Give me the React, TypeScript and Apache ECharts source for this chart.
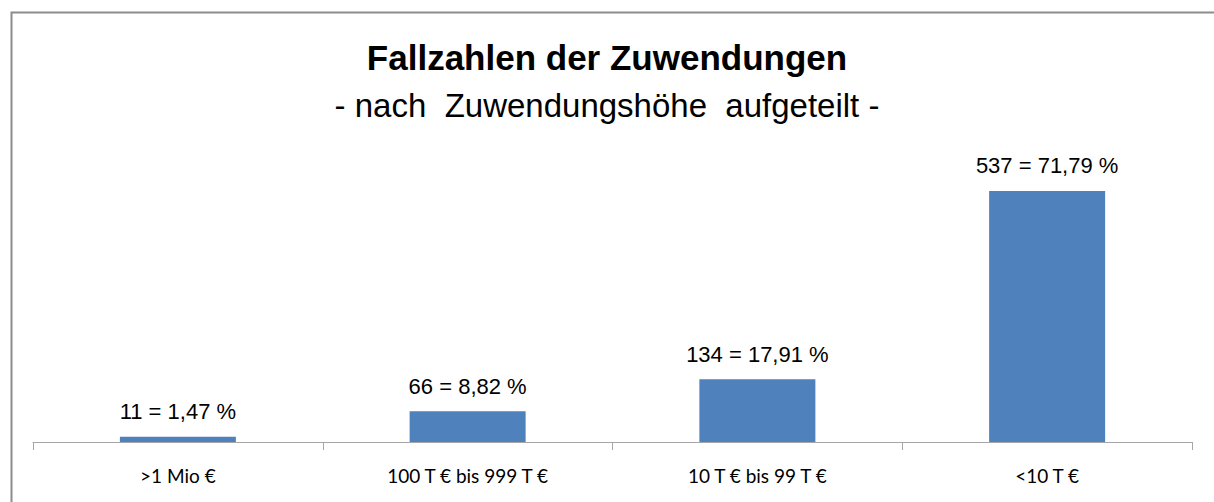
import React, { useEffect, useRef } from "react";
import * as echarts from "echarts";

const titleText = "Fallzahlen der Zuwendungen";
const subtitleText = "- nach  Zuwendungshöhe  aufgeteilt -";
const categories = [">1 Mio €", "100 T € bis 999 T €", "10 T € bis 99 T €", "<10 T €"];
const counts = [11, 66, 134, 537];
const percents = ["1,47", "8,82", "17,91", "71,79"];

export default function App() {
  const ref = useRef<HTMLDivElement>(null);
  useEffect(() => {
    if (!ref.current) return;
    const chart = echarts.init(ref.current, null, { renderer: "svg" });
    chart.setOption({
      animation: false,
      backgroundColor: "#ffffff",
      title: [
        {
          text: titleText,
          left: "center",
          top: 34,
          textStyle: {
            fontFamily: "Liberation Sans, Arial, sans-serif",
            fontWeight: "bold",
            fontSize: 35,
            lineHeight: 36,
            color: "#000000",
          },
        },
        {
          text: subtitleText,
          left: "center",
          top: 83,
          textStyle: {
            fontFamily: "Liberation Sans, Arial, sans-serif",
            fontWeight: "normal",
            fontSize: 33,
            lineHeight: 34,
            color: "#000000",
          },
        },
      ],
      graphic: [
        {
          type: "rect",
          left: 9,
          top: 10,
          shape: { x: 0, y: 0, width: 1230, height: 520 },
          style: { fill: "none", stroke: "#8c8c8c", lineWidth: 2 },
          silent: true,
        },
      ],
      grid: { left: 33, right: 22, top: 161.5, bottom: 60 },
      xAxis: {
        type: "category",
        data: categories,
        boundaryGap: true,
        axisLine: { show: true, lineStyle: { color: "#a6a6a6", width: 1 } },
        axisTick: { show: true, length: 8, alignWithLabel: false, lineStyle: { color: "#a6a6a6" } },
        axisLabel: {
          margin: 24,
          fontFamily: "Lato, Open Sans, sans-serif",
          fontSize: 19,
          color: "#000000",
          interval: 0,
        },
      },
      yAxis: {
        type: "value",
        min: 0,
        max: 600,
        show: false,
        splitLine: { show: false },
      },
      series: [
        {
          type: "bar",
          data: counts,
          barWidth: 116,
          itemStyle: { color: "#4f81bd" },
          label: {
            show: true,
            position: "top",
            distance: 14,
            fontFamily: "Liberation Sans, Arial, sans-serif",
            fontSize: 22,
            color: "#000000",
            formatter: (p: any) => `${counts[p.dataIndex]} = ${percents[p.dataIndex]} %`,
          },
        },
      ],
    });
    return () => chart.dispose();
  }, []);
  return (
    <div
      ref={ref}
      style={{ position: "fixed", left: 0, top: 0, width: 1214, height: 502 }}
    />
  );
}
